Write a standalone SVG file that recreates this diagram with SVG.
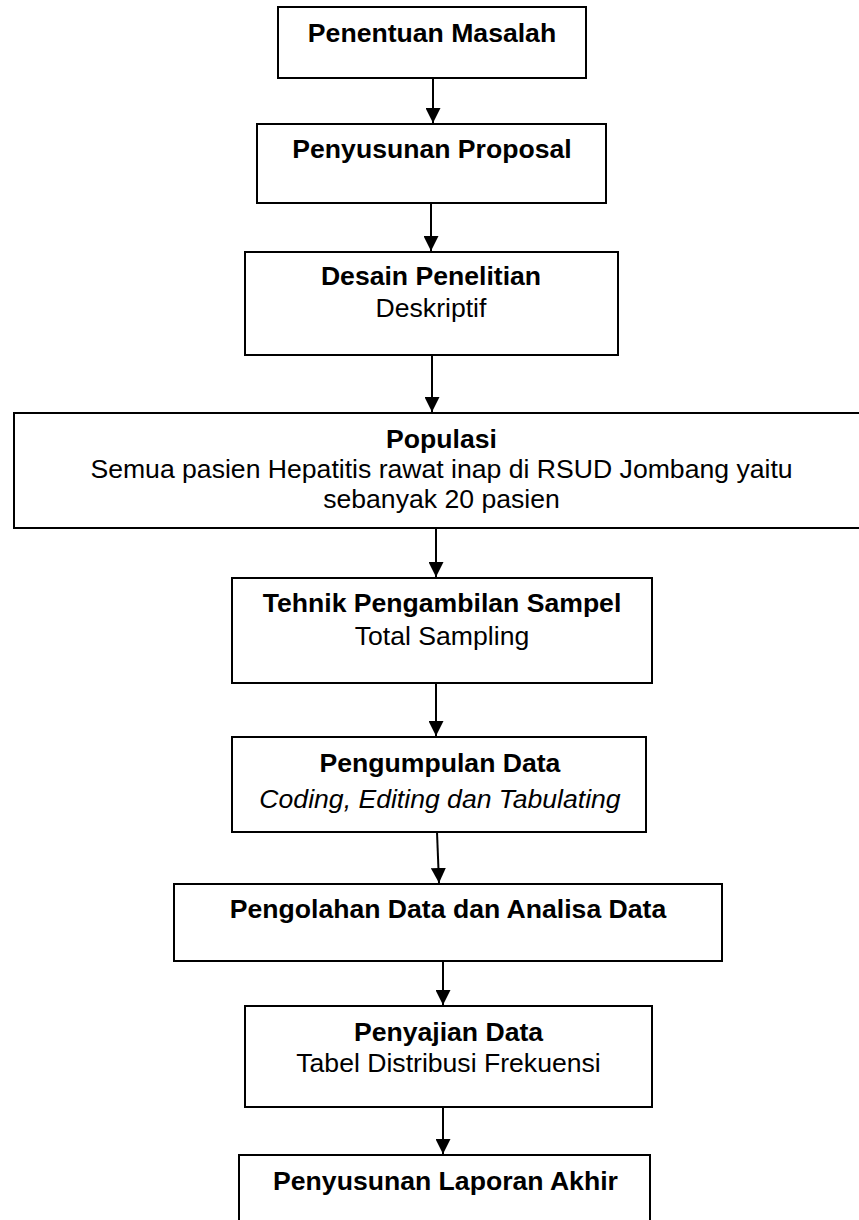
<svg xmlns="http://www.w3.org/2000/svg" width="859" height="1220" viewBox="0 0 859 1220">
<style>
.box{fill:#fff;stroke:#000;stroke-width:2}
text{font-family:"Liberation Sans",Arial,sans-serif;font-size:26.6px;fill:#000;text-anchor:middle}
.b{font-weight:bold}
.i{font-style:italic}
.c{stroke:#000;stroke-width:2;fill:none}
</style>
<defs>
<marker id="ah" markerUnits="userSpaceOnUse" markerWidth="15" markerHeight="15" refX="15" refY="7.5" orient="auto" viewBox="0 0 15 15">
<path d="M0,0 L15,7.5 L0,15 z" fill="#000"/>
</marker>
</defs>
<rect width="859" height="1220" fill="#fff"/>
<g id="connectors">
<line class="c" x1="433" y1="78" x2="433" y2="123" marker-end="url(#ah)"/>
<line class="c" x1="431" y1="203" x2="431" y2="251" marker-end="url(#ah)"/>
<line class="c" x1="432" y1="355" x2="432" y2="412" marker-end="url(#ah)"/>
<line class="c" x1="436" y1="528" x2="436" y2="577" marker-end="url(#ah)"/>
<line class="c" x1="436" y1="683" x2="436" y2="736" marker-end="url(#ah)"/>
<line class="c" x1="437" y1="832" x2="439" y2="883" marker-end="url(#ah)"/>
<line class="c" x1="443" y1="961" x2="443" y2="1005" marker-end="url(#ah)"/>
<line class="c" x1="443" y1="1107" x2="443" y2="1154" marker-end="url(#ah)"/>
</g>
<g id="n1">
<rect class="box" x="278" y="7" width="308" height="71"/>
<text class="b" x="432" y="41.5">Penentuan Masalah</text>
</g>
<g id="n2">
<rect class="box" x="257" y="124" width="349" height="79"/>
<text class="b" x="432" y="158">Penyusunan Proposal</text>
</g>
<g id="n3">
<rect class="box" x="245" y="252" width="373" height="103"/>
<text class="b" x="431" y="285">Desain Penelitian</text>
<text x="431" y="317">Deskriptif</text>
</g>
<g id="n4">
<rect class="box" x="14" y="413" width="860" height="115"/>
<text class="b" x="441.5" y="448">Populasi</text>
<text x="441.5" y="478">Semua pasien Hepatitis rawat inap di RSUD Jombang yaitu</text>
<text x="441.5" y="508">sebanyak 20 pasien</text>
</g>
<g id="n5">
<rect class="box" x="232" y="578" width="420" height="105"/>
<text class="b" x="442" y="612">Tehnik Pengambilan Sampel</text>
<text x="442" y="645">Total Sampling</text>
</g>
<g id="n6">
<rect class="box" x="232" y="737" width="414" height="95"/>
<text class="b" x="440" y="772">Pengumpulan Data</text>
<text class="i" x="440" y="808">Coding, Editing dan Tabulating</text>
</g>
<g id="n7">
<rect class="box" x="174" y="884" width="548" height="77"/>
<text class="b" x="448" y="918">Pengolahan Data dan Analisa Data</text>
</g>
<g id="n8">
<rect class="box" x="245" y="1006" width="407" height="101"/>
<text class="b" x="448.5" y="1041">Penyajian Data</text>
<text x="448.5" y="1072">Tabel Distribusi Frekuensi</text>
</g>
<g id="n9">
<rect class="box" x="239" y="1155" width="411" height="80"/>
<text class="b" x="445.5" y="1190">Penyusunan Laporan Akhir</text>
</g>
</svg>
